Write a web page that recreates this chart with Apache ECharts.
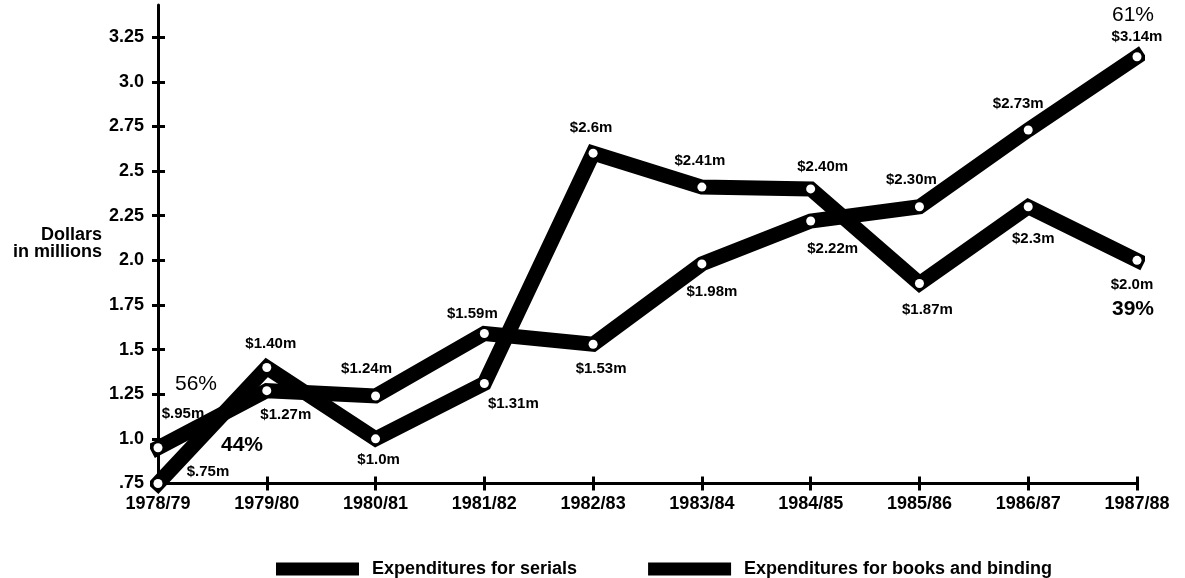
<!DOCTYPE html>
<html>
<head>
<meta charset="utf-8">
<script src="https://cdn.jsdelivr.net/npm/echarts@6/dist/echarts.min.js"></script>
<style>
  html, body { margin: 0; padding: 0; background: #fff; }
  #chart { width: 1185px; height: 578px; }
</style>
</head>
<body>
<div id="chart"></div>
<script>
// ---- data ----
const years = ['1978/79', '1979/80', '1980/81', '1981/82', '1982/83',
               '1983/84', '1984/85', '1985/86', '1986/87', '1987/88'];

const serials = [0.95, 1.27, 1.24, 1.59, 1.53, 1.98, 2.22, 2.30, 2.73, 3.14];
const serialsText = ['$.95m', '$1.27m', '$1.24m', '$1.59m', '$1.53m',
                     '$1.98m', '$2.22m', '$2.30m', '$2.73m', '$3.14m'];

const books = [0.75, 1.40, 1.0, 1.31, 2.6, 2.41, 2.40, 1.87, 2.3, 2.0];
const booksText = ['$.75m', '$1.40m', '$1.0m', '$1.31m', '$2.6m',
                   '$2.41m', '$2.40m', '$1.87m', '$2.3m', '$2.0m'];

const yTicks = [0.75, 1.0, 1.25, 1.5, 1.75, 2.0, 2.25, 2.5, 2.75, 3.0, 3.25];
const yTickLabels = ['.75', '1.0', '1.25', '1.5', '1.75', '2.0', '2.25', '2.5', '2.75', '3.0', '3.25'];

const serialsShare = ['56%', '61%'];   // first year, last year
const booksShare = ['44%', '39%'];

const seriesNames = ['Expenditures for serials', 'Expenditures for books and binding'];

// ---- layout ----
const FONT = '"Liberation Sans", Arial, Helvetica, sans-serif';
const INK = '#000';

// label placement around each point (pixels from the point centre)
const serialsLabelOffsets = [[25, -34], [19, 24], [-9, -27], [-12, -20], [8, 25],
                             [10, 28], [22, 28], [-8, -27], [-10, -26], [0, -20]];
const booksLabelOffsets = [[50, -12], [4, -24], [3, 21], [29, 20], [-2, -25],
                           [-2, -26], [12, -22], [8, 26], [5, 32], [-5, 25]];

function buildData(values, offsets) {
  return values.map((v, i) => ({
    value: v,
    label: { offset: offsets[i] }
  }));
}

function lineSeries(name, values, texts, offsets, z) {
  return {
    name: name,
    type: 'line',
    z: z,
    clip: false,
    data: buildData(values, offsets),
    symbol: 'circle',
    symbolSize: 9,
    itemStyle: { color: '#fff', borderWidth: 0 },
    lineStyle: { color: INK, width: 15, join: 'miter', cap: 'square' },
    label: {
      show: true,
      position: 'inside',
      formatter: p => texts[p.dataIndex],
      color: INK,
      fontFamily: FONT,
      fontWeight: 'bold',
      fontSize: 15
    },
    emphasis: { disabled: true },
    animation: false
  };
}

const yLabelFor = v => {
  const i = yTicks.findIndex(t => Math.abs(t - v) < 1e-6);
  return i >= 0 ? yTickLabels[i] : '';
};

const chart = echarts.init(document.getElementById('chart'), null, { renderer: 'canvas' });

const axisStroke = { color: INK, width: 3 };

chart.setOption({
  backgroundColor: '#fff',
  animation: false,
  grid: { left: 158, right: 48, top: 5, bottom: 94.5, outerBoundsMode: 'none' },
  xAxis: [{
    type: 'category',
    data: years,
    boundaryGap: false,
    position: 'bottom',
    axisLine: { show: true, lineStyle: axisStroke },
    axisTick: { show: true, length: 7, lineStyle: axisStroke },
    axisLabel: {
      color: INK, fontFamily: FONT, fontWeight: 'bold', fontSize: 18, margin: 12,
      interval: 0
    },
    splitLine: { show: false }
  }, {
    type: 'category',
    data: years,
    boundaryGap: false,
    position: 'bottom',
    axisLine: { show: false },
    axisTick: { show: true, inside: true, length: 7, lineStyle: axisStroke },
    axisLabel: { show: false },
    splitLine: { show: false }
  }],
  yAxis: [{
    type: 'value',
    min: 0.75,
    max: 3.43,
    position: 'left',
    axisLine: { show: true, lineStyle: axisStroke },
    axisTick: { show: true, length: 6, customValues: yTicks, lineStyle: axisStroke },
    axisLabel: {
      customValues: yTicks,
      formatter: yLabelFor,
      color: INK, fontFamily: FONT, fontWeight: 'bold', fontSize: 18, margin: 14
    },
    splitLine: { show: false }
  }, {
    type: 'value',
    min: 0.75,
    max: 3.43,
    position: 'left',
    axisLine: { show: false },
    axisTick: { show: true, inside: true, length: 7, customValues: yTicks, lineStyle: axisStroke },
    axisLabel: { show: false },
    splitLine: { show: false }
  }],
  legend: {
    left: 271,
    top: 555,
    icon: 'rect',
    itemWidth: 83,
    itemHeight: 13,
    itemGap: 71,
    selectedMode: false,
    textStyle: {
      color: INK, fontFamily: FONT, fontWeight: 'bold', fontSize: 18,
      padding: [0, 0, 0, 8]
    },
    data: seriesNames.map(n => ({ name: n, itemStyle: { color: INK } }))
  },
  series: [
    lineSeries(seriesNames[0], serials, serialsText, serialsLabelOffsets, 2),
    lineSeries(seriesNames[1], books, booksText, booksLabelOffsets, 3)
  ]
});

// ---- axis title and share annotations, placed from the plotted points ----
const last = years.length - 1;
const px = (i, v) => chart.convertToPixel({ xAxisIndex: 0, yAxisIndex: 0 }, [i, v]);

function shareText(pt, dx, dy, text, weight) {
  return {
    type: 'text',
    x: pt[0] + dx,
    y: pt[1] + dy,
    z: 10,
    style: {
      text: text,
      fill: INK,
      font: weight + ' 21px ' + FONT,
      textAlign: 'center',
      textVerticalAlign: 'middle'
    }
  };
}

const s0 = px(0, serials[0]);
const b0 = px(0, books[0]);
const sN = px(last, serials[last]);
const bN = px(last, books[last]);

chart.setOption({
  graphic: [
    {
      type: 'text',
      x: 102,
      y: 244,
      style: {
        text: 'Dollars\nin millions',
        fill: INK,
        font: 'bold 18px ' + FONT,
        lineHeight: 17,
        textAlign: 'right',
        textVerticalAlign: 'middle'
      }
    },
    shareText(s0, 38, -64, serialsShare[0], 'normal'),
    shareText(b0, 84, -38, booksShare[0], 'bold'),
    shareText(sN, -4, -42, serialsShare[1], 'normal'),
    shareText(bN, -4, 49, booksShare[1], 'bold')
  ]
});
</script>
</body>
</html>
